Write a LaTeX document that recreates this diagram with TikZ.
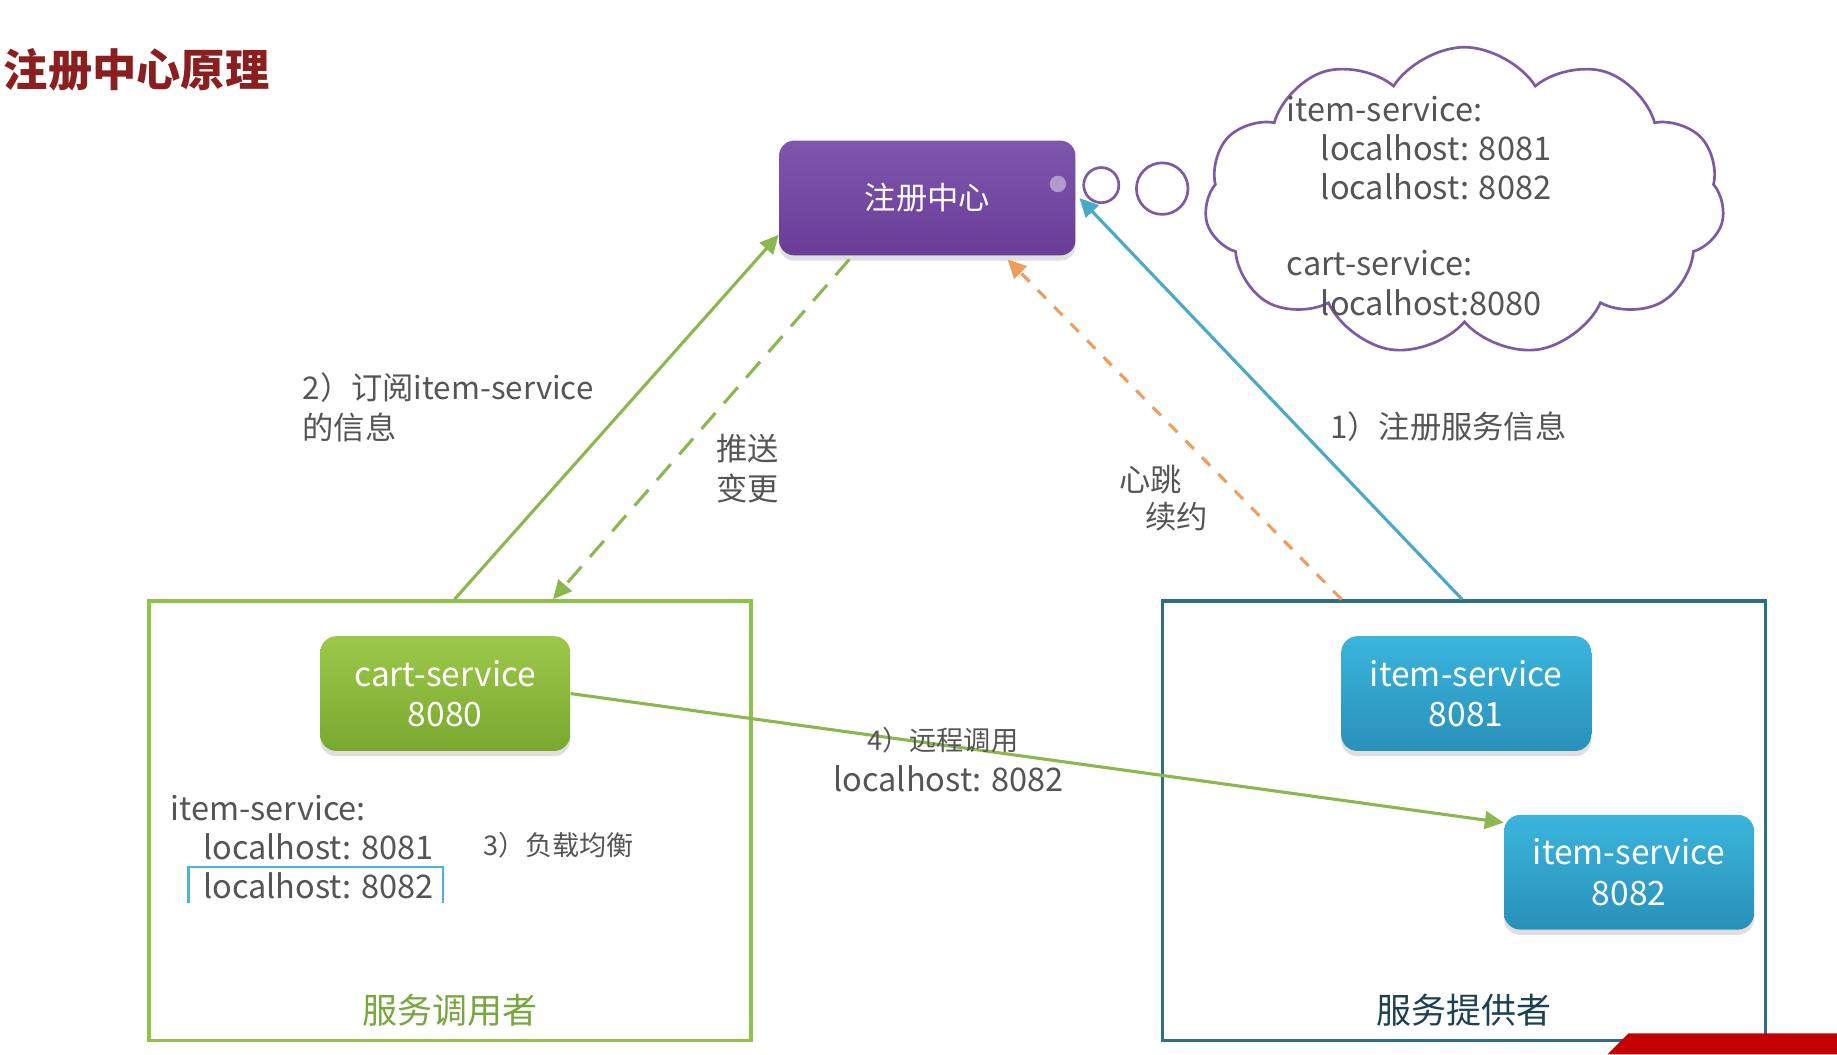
\documentclass[tikz,border=0pt]{standalone}
\usepackage{fontspec}
\setmainfont{Noto Sans CJK SC}
\usetikzlibrary{shapes.symbols,shadows,arrows.meta}
\definecolor{titlered}{HTML}{8B1E1E}
\definecolor{purpletop}{HTML}{7E56AD}
\definecolor{purplebot}{HTML}{693D97}
\definecolor{greentop}{HTML}{9DC94A}
\definecolor{greenbot}{HTML}{79A82F}
\definecolor{bluetop}{HTML}{3AB5DC}
\definecolor{bluebot}{HTML}{2990BA}
\definecolor{consframe}{HTML}{8DC34A}
\definecolor{provframe}{HTML}{2E6E89}
\definecolor{greenarrow}{HTML}{8AB84E}
\definecolor{orangearrow}{HTML}{EE9E5C}
\definecolor{bluearrow}{HTML}{4AA9C6}
\definecolor{cloudc}{HTML}{7D5AA6}
\definecolor{textgray}{HTML}{555555}
\definecolor{bracketblue}{HTML}{4AB3DE}
\definecolor{wmred}{HTML}{C40000}
\begin{document}
\begin{tikzpicture}[x=0.02cm,y=-0.02cm,
  svcbox/.style={rounded corners=0.28cm, minimum width=4.27cm, minimum height=1.96cm,
    text=white, align=center, font=\fontsize{16.3}{19.5}\selectfont,
    drop shadow={opacity=0.25, shadow xshift=0cm, shadow yshift=-0.09cm}},
  greenbox/.style={svcbox, top color=greentop, bottom color=greenbot},
  bluebox/.style={svcbox, top color=bluetop, bottom color=bluebot},
  frame/.style={draw, line width=1.7pt, minimum height=7.5cm},
  lbl/.style={text=textgray, anchor=west, align=left, inner sep=0pt, font=\fontsize{15.2}{19.4}\selectfont},
  smalllbl/.style={text=textgray, anchor=west, inner sep=0pt, font=\fontsize{13.2}{15}\selectfont},
  mono/.style={text=textgray, anchor=west, inner sep=0pt, font=\fontsize{15.8}{19}\selectfont},
  arr/.style={line width=1.5pt, -{Triangle[length=0.32cm,width=0.3cm]}},
]
\useasboundingbox (0,0) rectangle (1568,900);
\fill[white] (0,0) rectangle (1568,900);

% title
\node[anchor=west, inner sep=0pt, text=titlered, font=\fontsize{21.5}{24}\selectfont\bfseries] (title) at (3,60) {注册中心原理};

% frames
\node[frame, draw=consframe, minimum width=10.28cm] (consumer) at (384,700.5) {};
\node[frame, draw=provframe, minimum width=10.3cm] (provider) at (1249.5,700.5) {};

% registry
\node[rounded corners=0.26cm, minimum width=5.06cm, minimum height=1.96cm,
  top color=purpletop, bottom color=purplebot, text=white,
  font=\fontsize{15.2}{18}\selectfont,
  drop shadow={opacity=0.25, shadow xshift=0cm, shadow yshift=-0.09cm}] (registry) at (791.5,169) {注册中心};
\node[circle, fill=purpletop!60!white, minimum size=0.28cm, inner sep=0pt] (dot) at (903,157) {};

% thought circles and cloud
\node[circle, draw=cloudc, line width=1.3pt, minimum size=0.6cm, inner sep=0pt] (c1) at (940,158) {};
\node[circle, draw=cloudc, line width=1.3pt, minimum size=0.88cm, inner sep=0pt] (c2) at (992,161) {};
\node[cloud, draw=cloudc, line width=1.3pt, cloud puffs=11, cloud puff arc=115, cloud ignores aspect,
  minimum width=8.88cm, minimum height=5.27cm] (cloud) at (1250,172) {};
\node[mono] (cl1) at (1098,93) {item-service:};
\node[mono] (cl2) at (1127,126) {localhost: 8081};
\node[mono] (cl3) at (1127,159) {localhost: 8082};
\node[mono] (cl4) at (1098,225) {cart-service:};
\node[mono] (cl5) at (1127,258) {localhost:8080};

% service boxes
\node[greenbox] (cart) at (380,592) {cart-service\\8080};
\node[bluebox] (item1) at (1251.5,592) {item-service\\8081};
\node[bluebox] (item2) at (1390.5,744.5) {item-service\\8082};

% consumer text
\node[mono] (ci1) at (145,690) {item-service:};
\node[mono] (ci2) at (173,723) {localhost: 8081};
\node[mono] (ci3) at (173,756) {localhost: 8082};
\draw[bracketblue, line width=1.1pt] (161,771) -- (161,740) -- (378,740) -- (378,771);
\node[smalllbl] (lb3) at (412,721) {3）负载均衡};
\node[text=consframe!85!black, font=\fontsize{17}{20}\selectfont] (consl) at (384,862) {服务调用者};
\node[text=provframe!60!black, font=\fontsize{17}{20}\selectfont] (provl) at (1250,862) {服务提供者};

% arrows
\draw[arr, greenarrow] ([xshift=0.08cm]consumer.north) -- ([yshift=0.36cm]registry.south west);
\draw[arr, greenarrow, dash pattern=on 0.36cm off 0.22cm] ([xshift=-1.33cm,yshift=-0.06cm]registry.south) -- ([xshift=1.76cm]consumer.north);
\draw[arr, orangearrow, dash pattern=on 0.2cm off 0.2cm] ([xshift=-2.09cm]provider.north) -- ([xshift=1.37cm,yshift=-0.06cm]registry.south);
\draw[arr, bluearrow] ([xshift=-0.03cm]provider.north) -- ([xshift=0.06cm]registry.east);
\draw[arr, greenarrow] (cart.east) -- ([yshift=-0.14cm]item2.north west);

% labels
\node[lbl] (l2) at (258,348) {2）订阅item-service\\的信息};
\node[lbl] (lpush) at (611,400) {推送\\变更};
\node[lbl] (lhb1) at (955,409) {心跳};
\node[lbl] (lhb2) at (977,441) {续约};
\node[lbl] (l1) at (1135,364) {1）注册服务信息};
\node[smalllbl] (l4) at (740,632) {4）远程调用};
\node[mono] (l4b) at (711,665) {localhost: 8082};

% watermark band
\fill[wmred] (1372,900) -- (1390,882) -- (1568,882) -- (1568,900) -- cycle;
\end{tikzpicture}
\end{document}
